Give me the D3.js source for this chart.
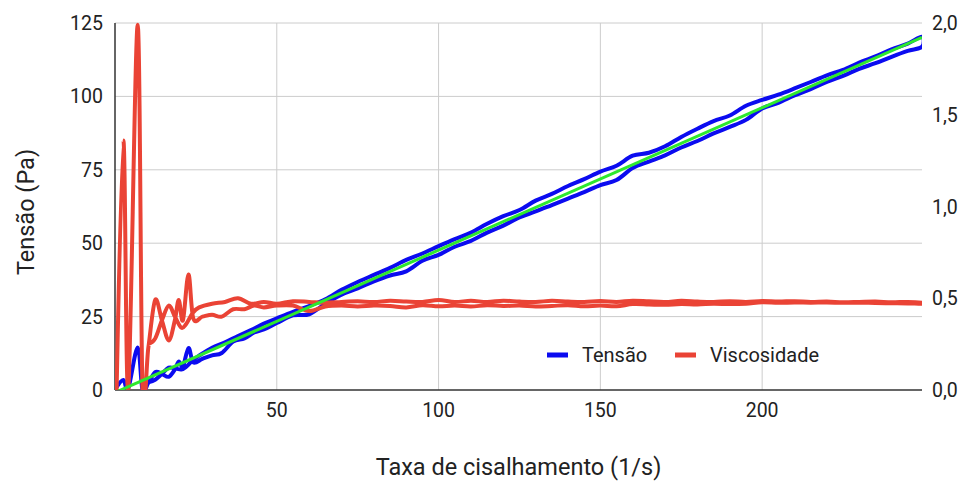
<!DOCTYPE html>
<html>
<head>
<meta charset="utf-8">
<script src="https://cdn.jsdelivr.net/npm/d3@7"></script>
<style>
  body { margin: 0; background: #fff; }
  text { font-family: Roboto, "Noto Sans", sans-serif; fill: #222; }
</style>
</head>
<body>
<div id="chart"></div>
<script>
// ramp up (taxa crescente)
var rateUp = [0.5, 2.6, 4.1, 7.0, 8.5, 10.3, 12.4, 14.5, 16.6, 18.5, 19.7, 21.0, 22.7, 24.2,
  27, 30, 33, 36.5, 40, 43, 46,
  50, 55, 60, 65, 70, 75, 80, 85, 90, 95,
  100, 105, 110, 115, 120, 125, 130, 135, 140, 145,
  150, 155, 160, 165, 170, 175, 180, 185, 190, 195,
  200, 205, 210, 215, 220, 225, 230, 235, 240, 245, 249.4];
var tensionUp = [1.0, 3.4, 0.5, 14.5, 0.0, 2.4, 6.1, 5.5, 4.5, 7.0, 9.7, 8.0, 14.3, 9.4,
  10.6, 11.8, 12.6, 16.5, 17.6, 19.6, 20.6,
  22.8, 25.4, 25.8, 29.4, 32.5, 34.6, 37.0, 39.0, 40.4, 44.0,
  46.0, 48.8, 50.8, 53.6, 56.0, 58.8, 60.8, 63.0, 65.2, 67.4,
  69.8, 71.5, 75.6, 77.8, 79.9, 82.6, 84.8, 87.4, 89.6, 92.0,
  95.9, 97.8, 100.3, 102.5, 104.9, 107.0, 109.4, 111.3, 113.5, 115.5, 116.9];
var viscUp = [0.0, 1.36, 0.0, 1.99, 0.0, 0.23, 0.49, 0.38, 0.27, 0.38, 0.49, 0.38, 0.63, 0.39,
  0.40, 0.41, 0.40, 0.44, 0.44, 0.46, 0.45,
  0.46, 0.46, 0.43, 0.455, 0.46, 0.455, 0.46, 0.458, 0.45, 0.462,
  0.456, 0.46, 0.455, 0.462, 0.458, 0.46, 0.455, 0.458, 0.462, 0.456,
  0.46, 0.456, 0.468, 0.466, 0.464, 0.468, 0.466, 0.47, 0.468, 0.47,
  0.478, 0.475, 0.477, 0.476, 0.477, 0.475, 0.476, 0.474, 0.473, 0.472, 0.47];

// ramp down (taxa decrescente)
var rateDown = [249.4, 245, 240, 235, 230, 225, 220, 215, 210, 205,
  200, 195, 190, 185, 180, 175, 170, 165, 160, 155,
  150, 145, 140, 135, 130, 125, 120, 115, 110, 105,
  100, 95, 90, 85, 80, 75, 70, 65, 60, 55,
  50, 46, 42, 38, 34, 30, 26, 24, 22, 20.5, 18.5, 16.6, 14.5, 12.4, 10.3];
var tensionDown = [120.3, 118.0, 116.0, 113.6, 111.5, 109.0, 107.2, 104.9, 102.7, 100.6,
  98.8, 96.8, 93.5, 91.6, 89.0, 86.2, 83.0, 80.8, 79.8, 76.4,
  74.4, 71.8, 69.5, 66.8, 64.5, 61.3, 59.2, 56.6, 53.6, 51.4,
  49.0, 46.5, 44.3, 41.6, 39.2, 36.8, 34.1, 30.9, 28.6, 26.6,
  24.4, 22.6, 20.4, 18.4, 16.2, 14.4, 11.7, 10.1, 7.9, 7.0, 7.4, 7.6, 5.5, 3.5, 2.6];
var viscDown = [0.475, 0.48, 0.478, 0.482, 0.48, 0.478, 0.482, 0.48, 0.484, 0.482,
  0.485, 0.48, 0.484, 0.48, 0.482, 0.486, 0.48, 0.483, 0.487, 0.48,
  0.485, 0.48, 0.482, 0.486, 0.48, 0.482, 0.487, 0.48, 0.486, 0.48,
  0.49, 0.48, 0.482, 0.486, 0.48, 0.483, 0.48, 0.475, 0.48, 0.484,
  0.47, 0.48, 0.47, 0.50, 0.48, 0.47, 0.45, 0.42, 0.36, 0.34, 0.40, 0.46, 0.38, 0.28, 0.25];

var leftTicks = [0, 25, 50, 75, 100, 125];
var rightTicks = [0, 0.5, 1.0, 1.5, 2.0];
var xTicks = [50, 100, 150, 200];
var seriesNames = ["Tensão", "Viscosidade"];
var xTitle = "Taxa de cisalhamento (1/s)";
var yTitle = "Tensão (Pa)";

var width = 967, height = 482;
var margin = {top: 23, right: 45, bottom: 92, left: 115};

var svg = d3.select("#chart").append("svg")
    .attr("width", width)
    .attr("height", height);

var x = d3.scaleLinear().domain([0, 249.4]).range([margin.left, width - margin.right]);
var yL = d3.scaleLinear().domain([0, 125]).range([height - margin.bottom, margin.top]);
var yR = d3.scaleLinear().domain([0, 2]).range([height - margin.bottom, margin.top]);

// put both sweeps in one series, in measurement order
var points = rateUp.map(function(r, i) { return {x: r, t: tensionUp[i], v: viscUp[i]}; })
  .concat(rateDown.map(function(r, i) { return {x: r, t: tensionDown[i], v: viscDown[i]}; }));

// gridlines
svg.append("g").selectAll("line.h")
    .data(leftTicks.filter(function(d) { return d > 0; }))
  .enter().append("line")
    .attr("x1", x.range()[0]).attr("x2", x.range()[1])
    .attr("y1", function(d) { return yL(d); }).attr("y2", function(d) { return yL(d); })
    .attr("stroke", "#cccccc").attr("stroke-width", 1);
svg.append("g").selectAll("line.v")
    .data(xTicks)
  .enter().append("line")
    .attr("x1", function(d) { return x(d); }).attr("x2", function(d) { return x(d); })
    .attr("y1", yL.range()[0]).attr("y2", yL.range()[1])
    .attr("stroke", "#cccccc").attr("stroke-width", 1);

// baselines
svg.append("line")
    .attr("x1", x(0)).attr("x2", x(0))
    .attr("y1", yL.range()[0]).attr("y2", yL.range()[1])
    .attr("stroke", "#333").attr("stroke-width", 1.5);
svg.append("line")
    .attr("x1", x.range()[0]).attr("x2", x.range()[1])
    .attr("y1", yL(0)).attr("y2", yL(0))
    .attr("stroke", "#333").attr("stroke-width", 1.5);

// axes labels
svg.append("g").selectAll("text")
    .data(leftTicks)
  .enter().append("text")
    .attr("x", margin.left - 12)
    .attr("y", function(d) { return yL(d); })
    .attr("dy", "0.36em")
    .attr("text-anchor", "end")
    .style("font-size", "19.5px")
    .text(function(d) { return d; });

var fmt = d3.format(".1f");
svg.append("g").selectAll("text")
    .data(rightTicks)
  .enter().append("text")
    .attr("x", width - margin.right + 10)
    .attr("y", function(d) { return yR(d); })
    .attr("dy", "0.36em")
    .style("font-size", "19.5px")
    .text(function(d) { return fmt(d).replace(".", ","); });

svg.append("g").selectAll("text")
    .data(xTicks)
  .enter().append("text")
    .attr("x", function(d) { return x(d); })
    .attr("y", yL(0) + 20)
    .attr("dy", "0.36em")
    .attr("text-anchor", "middle")
    .style("font-size", "19.5px")
    .text(function(d) { return d; });

svg.append("text")
    .attr("x", (x.range()[0] + x.range()[1]) / 2)
    .attr("y", 467)
    .attr("dy", "0.36em")
    .attr("text-anchor", "middle")
    .style("font-size", "23.5px")
    .text(xTitle);

svg.append("text")
    .attr("transform", "translate(26," + 212 + ") rotate(-90)")
    .attr("dy", "0.36em")
    .attr("text-anchor", "middle")
    .style("font-size", "23.5px")
    .text(yTitle);

// lines
svg.append("clipPath").attr("id", "plot")
  .append("rect")
    .attr("x", x.range()[0]).attr("y", yL.range()[1] - 2)
    .attr("width", x.range()[1] - x.range()[0])
    .attr("height", yL.range()[0] - yL.range()[1] + 2);

var lineT = d3.line()
    .x(function(d) { return x(d.x); })
    .y(function(d) { return yL(d.t); })
    .curve(d3.curveCardinal);
var lineV = d3.line()
    .x(function(d) { return x(d.x); })
    .y(function(d) { return yR(d.v); })
    .curve(d3.curveCardinal);

var plot = svg.append("g").attr("clip-path", "url(#plot)");
plot.append("path")
    .datum(points)
    .attr("d", lineT)
    .attr("fill", "none")
    .attr("stroke", "#0b0bf0")
    .attr("stroke-width", 4);
plot.append("path")
    .datum(points)
    .attr("d", lineV)
    .attr("fill", "none")
    .attr("stroke", "#ea4335")
    .attr("stroke-width", 4);

// linear trendline of Tensão (least squares)
var mx = d3.mean(points, function(d) { return d.x; });
var mt = d3.mean(points, function(d) { return d.t; });
var slope = d3.sum(points, function(d) { return (d.x - mx) * (d.t - mt); }) /
            d3.sum(points, function(d) { return (d.x - mx) * (d.x - mx); });
var icpt = mt - slope * mx;
var xr = d3.extent(points, function(d) { return d.x; });
plot.append("path")
    .datum(xr)
    .attr("d", d3.line()
        .x(function(d) { return x(d); })
        .y(function(d) { return yL(icpt + slope * d); }))
    .attr("fill", "none")
    .attr("stroke", "#2ee82e")
    .attr("stroke-width", 3);

// legend
var legendColors = ["#0b0bf0", "#ea4335"];
var legendX = [547, 675];
var lg = svg.append("g").selectAll("g")
    .data(seriesNames)
  .enter().append("g")
    .attr("transform", function(d, i) { return "translate(" + legendX[i] + ",355)"; });
lg.append("rect")
    .attr("x", 0).attr("y", -2.5)
    .attr("width", 21).attr("height", 5)
    .attr("fill", function(d, i) { return legendColors[i]; });
lg.append("text")
    .attr("x", 35)
    .attr("dy", "0.36em")
    .style("font-size", "20px")
    .text(function(d) { return d; });
</script>
</body>
</html>
